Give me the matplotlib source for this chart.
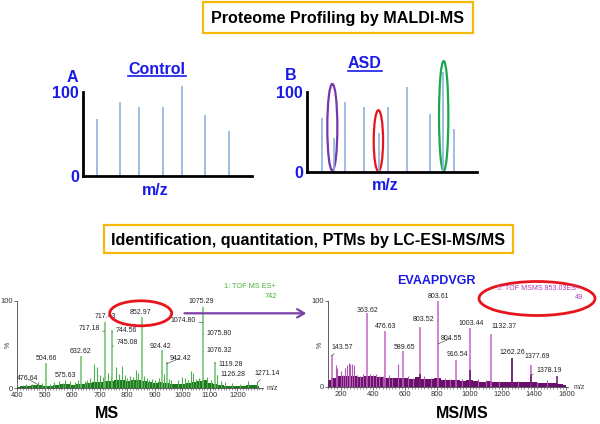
import matplotlib
matplotlib.use('Agg')
import matplotlib.pyplot as plt
from matplotlib.patches import Rectangle, Ellipse, FancyArrowPatch
from matplotlib.lines import Line2D
from matplotlib.ticker import MultipleLocator

plt.rcParams['font.family'] = ['Liberation Sans', 'DejaVu Sans']

W, H = 600, 424

# ---- MALDI cartoon data (relative m/z position, relative intensity)
control_pos = [8.3, 22.1, 33.3, 47.5, 58.8, 72.4, 86.6]
control_int = [67.6, 87.4, 82.2, 82.2, 106.8, 72.4, 53.4]
asd_pos = [8.8, 15.7, 22.5, 33.7, 42.2, 47.6, 58.6, 72.4, 80.2, 86.6]
asd_int = [66.7, 42.5, 86.7, 81.3, 48.0, 81.3, 105.4, 72.0, 125.0, 53.0]

# ---- LC-ESI MS spectrum (m/z, %)
ms_mz = [504.66, 632.62, 717.3, 744.8, 852.97, 924.42, 942.42, 1075.29, 1119.28]
ms_int = [28.5, 37, 75.7, 66, 81, 43.7, 30, 93, 30]
ms_minor_mz = [430, 455, 476, 490, 520, 535, 550, 565, 575, 590, 610, 620, 645, 655,
               665, 680, 690, 700, 710, 730, 740, 760, 770, 780, 790, 800, 810, 820,
               830, 840, 860, 870, 880, 890, 900, 915, 935, 950, 960, 985, 1000, 1010,
               1020, 1030, 1040, 1050, 1060, 1090, 1105, 1126, 1140, 1155, 1180, 1210,
               1240, 1271]
ms_minor_int = [5, 5, 7, 6, 5, 7, 8, 6, 9, 8, 7, 9, 8, 10,
                12, 28, 24, 15, 13, 18, 14, 24, 16, 26, 15, 12, 14, 13,
                21, 18, 14, 12, 10, 11, 9, 12, 16, 11, 10, 9, 13, 12,
                10, 20, 17, 11, 12, 13, 10, 15, 8, 7, 6, 5, 8, 7]
ms_noise_mz = list(range(400, 1300, 20))
ms_noise = [2, 3, 3, 4, 4, 3, 3, 4, 5, 5, 4, 5, 5, 6, 7, 7, 8, 8, 9, 9, 8, 9, 10,
            8, 7, 6, 7, 6, 5, 5, 5, 6, 7, 8, 9, 6, 5, 4, 3, 3, 3, 3, 4, 4, 3]
ms_labels = ['476.64', '504.66', '575.63', '632.62', '717.18', '717.43', '744.56',
             '745.08', '852.97', '924.42', '942.42', '1075.29', '1074.80', '1075.80',
             '1076.32', '1119.28', '1126.28', '1271.14']
ms_label_height = [4, None, None, None, 65, None, 64, 48, None, None, 28, None,
                   75, 62, 42, 28, 15, 6]

# ---- MS/MS spectrum of 853.03 (m/z, %)
msms_mz = [143.57, 363.62, 476.63, 589.65, 690, 803.61, 916.54, 1003.44, 1132.37,
           1262.26, 1377.69]
msms_int = [37, 85.6, 65, 42, 70, 100, 31, 69, 62, 33, 25]
msms_minor_mz = [170, 180, 200, 215, 230, 240, 250, 260, 270, 280, 300, 320, 340, 380,
                 400, 420, 440, 460, 500, 520, 555, 620, 650, 720, 760, 850, 880, 950,
                 1050, 1100, 1180, 1300, 1420, 1480]
msms_minor_int = [25, 22, 18, 14, 22, 25, 28, 27, 27, 25, 14, 12, 15, 15,
                  14, 15, 13, 12, 14, 10, 27, 12, 10, 12, 10, 10, 9, 9,
                  9, 8, 7, 7, 6, 8]
msms_dark_mz = [690, 1005, 1262, 1378, 1540]
msms_dark_int = [15, 20, 33, 14, 12]
msms_noise_mz = list(range(120, 1640, 40))
msms_noise = [8, 10, 12, 12, 12, 11, 12, 12, 11, 10, 10, 10, 10, 9, 11, 9, 9, 10, 8,
              8, 8, 7, 8, 7, 6, 7, 6, 6, 6, 5, 5, 5, 5, 4, 4, 4, 3, 2]
msms_labels = ['143.57', '363.62', '476.63', '589.65', '803.52', '803.61', '804.55',
               '916.54', '1003.44', '1132.37', '1262.26', '1377.69', '1378.19']
msms_label_height = [36, None, None, None, 76, None, 50, None, None, None, None,
                     None, 14]

BLUE = '#1a1ae6'
BAR = '#8fb1de'
ORANGE = '#f7b80c'
LABEL_FS = 5.0


def fp(x, y):
    return (x / W, 1 - y / H)


def px_axes(x0, y0, x1, y1):
    return fig.add_axes([x0 / W, 1 - y1 / H, (x1 - x0) / W, (y1 - y0) / H])


fig = plt.figure(figsize=(6, 4.24), dpi=100)

# title boxes
for (x0, y0, x1, y1), txt in [((203, 2, 473, 33), 'Proteome Profiling by MALDI-MS'),
                              ((104, 225, 513, 253),
                               'Identification, quantitation, PTMs by LC-ESI-MS/MS')]:
    fig.add_artist(Rectangle(fp(x0, y1), (x1 - x0) / W, (y1 - y0) / H,
                             transform=fig.transFigure, facecolor='white',
                             edgecolor=ORANGE, lw=1.6))
    fig.text(*fp((x0 + x1) / 2, (y0 + y1) / 2 + 1), txt, ha='center', va='center',
             fontsize=11.6, fontweight='bold')


def cartoon(ax, pos, vals, ytop):
    ax.vlines(pos, 0, vals, color=BAR, lw=1.2, clip_on=False)
    ax.set_xlim(0, 100)
    ax.set_ylim(0, ytop)
    ax.spines[['top', 'right']].set_visible(False)
    ax.spines[['left', 'bottom']].set_linewidth(2.0)
    ax.spines['left'].set_bounds(0, 100)
    ax.set_xticks([])
    ax.set_yticks([0, 100])
    ax.set_yticklabels(['0', '100'], color=BLUE, fontsize=11.5, fontweight='bold')
    ax.tick_params(axis='y', length=0, pad=3)
    ax.patch.set_alpha(0)


axA = px_axes(83, 76, 252, 176)
cartoon(axA, control_pos, control_int, 118.6)
axB = px_axes(307, 76, 477, 172)
cartoon(axB, asd_pos, asd_int, 119.6)
for (cx, cy, w, h), col in [((14.9, 55.7, 5.9, 108), '#7a35a8'),
                            ((42.0, 39.0, 5.5, 76), '#e8141c'),
                            ((80.4, 69.7, 5.5, 137), '#18a84e')]:
    axB.add_patch(Ellipse((cx, cy), w, h, fill=False, edgecolor=col, lw=1.6,
                          clip_on=False))

fig.text(*fp(72, 77), 'A', color=BLUE, fontsize=11.5, fontweight='bold',
         ha='center', va='center')
fig.text(*fp(291, 76), 'B', color=BLUE, fontsize=11.5, fontweight='bold',
         ha='center', va='center')
for (x0, x1, y, yl), txt in [((128, 186, 69, 75.5), 'Control'),
                             ((348, 382, 63, 70.5), 'ASD')]:
    fig.text(*fp((x0 + x1) / 2, y), txt, color=BLUE, fontsize=11.5,
             fontweight='bold', ha='center', va='center')
    fig.add_artist(Line2D([x0 / W, x1 / W], [1 - yl / H, 1 - yl / H], color=BLUE,
                          lw=1.2, transform=fig.transFigure))
fig.text(*fp(155, 190), 'm/z', color=BLUE, fontsize=11.5, fontweight='bold',
         ha='center', va='center')
fig.text(*fp(385, 186), 'm/z', color=BLUE, fontsize=11.5, fontweight='bold',
         ha='center', va='center')


def spectrum(ax, xlim, ytop, major, minor):
    ax.set_xlim(*xlim)
    ax.set_ylim(0, ytop)
    ax.spines[['top', 'right']].set_visible(False)
    ax.spines[['left', 'bottom']].set_linewidth(0.6)
    ax.spines[['left', 'bottom']].set_color('#444444')
    ax.spines['left'].set_bounds(0, 100)
    ax.xaxis.set_major_locator(MultipleLocator(major))
    ax.xaxis.set_minor_locator(MultipleLocator(minor))
    ax.set_yticks([0, 100])
    ax.tick_params(labelsize=5.5, colors='#333333', length=2, width=0.5, pad=1)
    ax.tick_params(which='minor', length=1.5, width=0.4, colors='#444444')
    ax.patch.set_alpha(0)


def add_labels(ax, labels, heights, positions):
    for lab, hgt, (tx, ty) in zip(labels, heights, positions):
        mz = float(lab)
        if hgt is None:
            ax.annotate(lab, xy=(mz, 0), xytext=fp(tx, ty),
                        textcoords='figure fraction', ha='center', va='center',
                        fontsize=LABEL_FS, color='#222222')
        else:
            ax.annotate(lab, xy=(mz, hgt), xytext=fp(tx, ty),
                        textcoords='figure fraction', ha='center', va='center',
                        fontsize=LABEL_FS, color='#222222',
                        arrowprops=dict(arrowstyle='-', lw=0.4, color='#333333',
                                        shrinkA=0, shrinkB=0))


# MS panel
axM = px_axes(16.7, 290, 263, 388.3)
spectrum(axM, (398, 1293), 112.2, 100, 10)
axM.fill_between(ms_noise_mz, 0, ms_noise, step='mid', color='#1f7a1f', lw=0)
axM.vlines(ms_minor_mz, 0, ms_minor_int, color='#4fae4f', lw=0.8)
axM.vlines(ms_mz, 0, ms_int, color='#6cc06c', lw=1.1)
ms_text_pos = [(27.8, 379), (46, 358), (65.7, 375.7), (80.7, 351.7), (89, 329),
               (105, 317), (126, 330), (127, 342.3), (140.5, 312.7), (160.3, 346),
               (180, 358.3), (200.8, 301.7), (183.3, 320.7), (219, 333.3),
               (219, 350.7), (230.5, 364), (232.5, 374.3), (266.7, 373.3)]
add_labels(axM, ms_labels, ms_label_height, ms_text_pos)

# MS/MS panel
axN = px_axes(327.7, 290, 568, 386.7)
spectrum(axN, (120, 1610), 112.8, 200, 20)
axN.fill_between(msms_noise_mz, 0, msms_noise, step='mid', color='#6a0f6a', lw=0)
axN.vlines(msms_minor_mz, 0, msms_minor_int, color='#b25ab2', lw=0.8)
axN.vlines(msms_mz, 0, msms_int, color='#c266c2', lw=1.1)
axN.vlines(msms_dark_mz, 0, msms_dark_int, color='#6a0f6a', lw=1.1)
msms_text_pos = [(342.5, 347.3), (367.5, 310), (385.2, 326.7), (404.7, 347.3),
                 (424, 319.3), (438, 296), (451, 338.3), (457, 355), (471.3, 323.3),
                 (504.3, 326), (512.5, 352.5), (537, 357), (549, 370.7)]
add_labels(axN, msms_labels, msms_label_height, msms_text_pos)

for x, y in [(8, 345), (320, 345)]:
    fig.text(*fp(x, y), '%', rotation=90, fontsize=5, color='#333333',
             ha='center', va='center')
fig.text(*fp(272, 389), 'm/z', fontsize=5.0, color='#333333', ha='center', va='center')
fig.text(*fp(579, 387.5), 'm/z', fontsize=5.0, color='#333333', ha='center', va='center')

fig.text(*fp(250, 287), '1: TOF MS ES+', fontsize=5.3, color='#4caf3c',
         ha='center', va='center')
fig.text(*fp(277, 296), '742', fontsize=5.3, color='#4caf3c', ha='right', va='center')
fig.text(*fp(539, 289), '5: TOF MSMS 853.03ES+', fontsize=5.1, color='#b040b0',
         ha='center', va='center')
fig.text(*fp(583, 297.5), '49', fontsize=5.3, color='#b040b0', ha='right', va='center')

fig.text(*fp(436.7, 281), 'EVAAPDVGR', fontsize=9, color=BLUE, fontweight='bold',
         ha='center', va='center')
fig.text(*fp(107, 413), 'MS', fontsize=11.5, fontweight='bold', ha='center', va='center')
fig.text(*fp(462, 413), 'MS/MS', fontsize=11.5, fontweight='bold', ha='center',
         va='center')

# red highlight ellipses and purple arrow
for cx, cy, w, h in [(140.7, 313.3, 62, 25), (537, 298.5, 116, 34)]:
    fig.add_artist(Ellipse(fp(cx, cy), w / W, h / H, transform=fig.transFigure,
                           fill=False, edgecolor='#e8141c', lw=2.0))
fig.add_artist(FancyArrowPatch(
    fp(181.7, 313.3), fp(309, 313.3), transform=fig.transFigure,
    arrowstyle='->,head_length=5,head_width=3', color='#7b3fa8', lw=1.6))

fig.savefig('out.png', dpi=100)
